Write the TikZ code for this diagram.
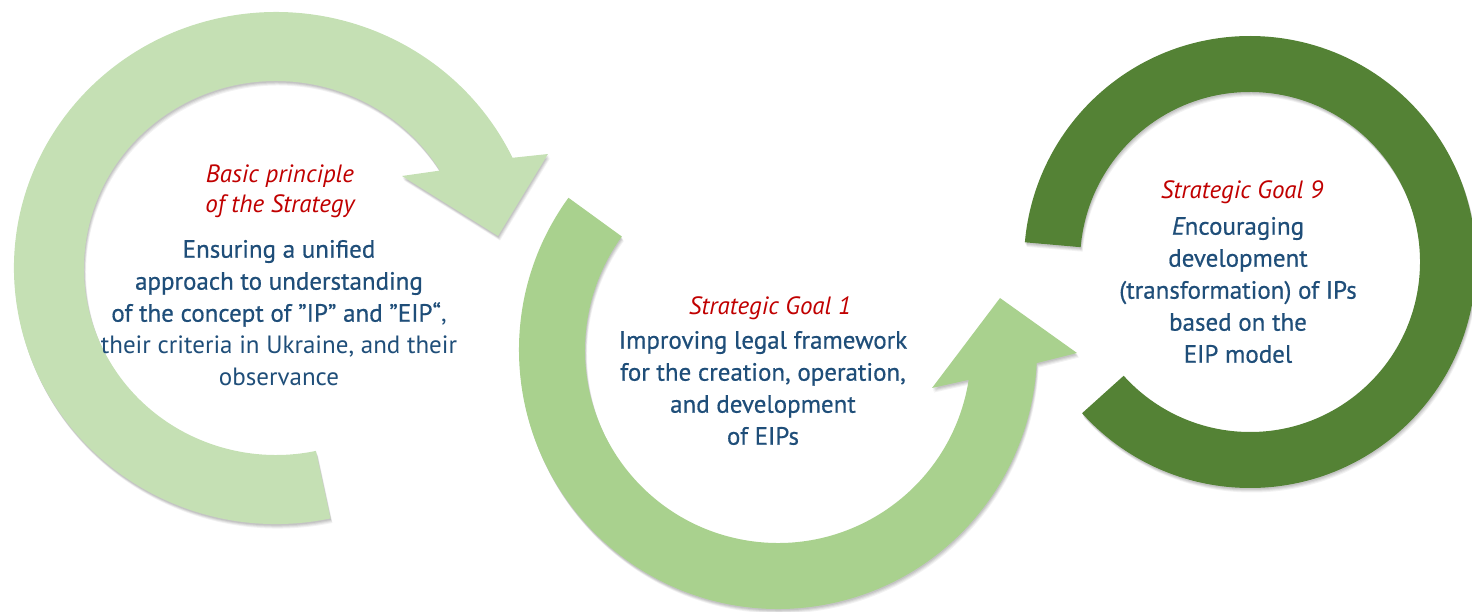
\documentclass[tikz,border=0pt]{standalone}
\usepackage{fontspec}
\setmainfont{PT Sans}
\newfontfamily\medfont{PT Sans}[FakeBold=0.6]
\definecolor{lightA}{HTML}{C5E0B4}
\definecolor{greenB}{HTML}{A9D18E}
\definecolor{darkC}{HTML}{548235}
\definecolor{redT}{HTML}{C00000}
\definecolor{blueT}{HTML}{1F4E79}
\tikzset{
  shad/.style={
    preaction={fill=black,fill opacity=0.07,transform canvas={shift={(0.5pt,-1.5pt)}}},
    preaction={fill=black,fill opacity=0.07,transform canvas={shift={(1pt,-2.5pt)}}},
    preaction={fill=black,fill opacity=0.06,transform canvas={shift={(1.5pt,-3.5pt)}}},
    preaction={fill=black,fill opacity=0.05,transform canvas={shift={(2pt,-4.5pt)}}}},
  redtxt/.style={text=redT,align=center,font=\fontsize{25}{30}\selectfont\itshape},
  bluetxt/.style={text=blueT,align=center,font=\fontsize{25}{32}\selectfont},
}
\begin{document}
\begin{tikzpicture}[x=1pt,y=1pt]
\useasboundingbox (0,0) rectangle (1472,611);
% Arrow 1 (light green)
\begin{scope}[shift={(276,343)}]
\fill[lightA,shad] (282:262 and 256) arc[start angle=282,end angle=25.5,x radius=262pt,y radius=256pt]
  -- (272,114) -- (222,32) -- (126,92)
  -- (31.4:192 and 187) arc[start angle=31.4,end angle=282,x radius=192pt,y radius=187pt] -- cycle;
\end{scope}
% Arrow 2 (green)
\begin{scope}[shift={(778,261)}]
\fill[greenB,shad] (144:259) arc[start angle=144,end angle=357.1,radius=259pt]
  -- (299,-3) -- (222,52) -- (154,-38)
  -- (351.1:193) arc[start angle=351.1,end angle=144,radius=193pt] -- cycle;
\end{scope}
% Ring 3 (dark green)
\begin{scope}[shift={(1250,349)}]
\fill[darkC,shad] (222:226) arc[start angle=222,end angle=535,radius=226pt]
  -- (535:170) arc[start angle=535,end angle=222,radius=170pt] -- cycle;
\end{scope}
% Texts
\node[redtxt] (r1) at (280,420) {Basic principle\\of the Strategy};
\node[bluetxt] (b1) at (279,298) {{\medfont Ensuring a unified}\\{\medfont approach to understanding}\\{\medfont of the concept of ”IP” and ”EIP“},\\their criteria in Ukraine, and their\\observance};
\node[redtxt] (r2) at (770,303) {Strategic Goal 1};
\node[bluetxt,font=\fontsize{25}{32}\selectfont\medfont] (b2) at (763,223) {Improving legal framework\\for the creation, operation,\\and development\\of EIPs};
\node[redtxt] (r3) at (1242,419) {Strategic Goal 9};
\node[bluetxt,font=\fontsize{25}{32}\selectfont\medfont] (b3) at (1238,321) {{\itshape E}ncouraging\\development\\(transformation) of IPs\\based on the\\EIP model};
\end{tikzpicture}
\end{document}
